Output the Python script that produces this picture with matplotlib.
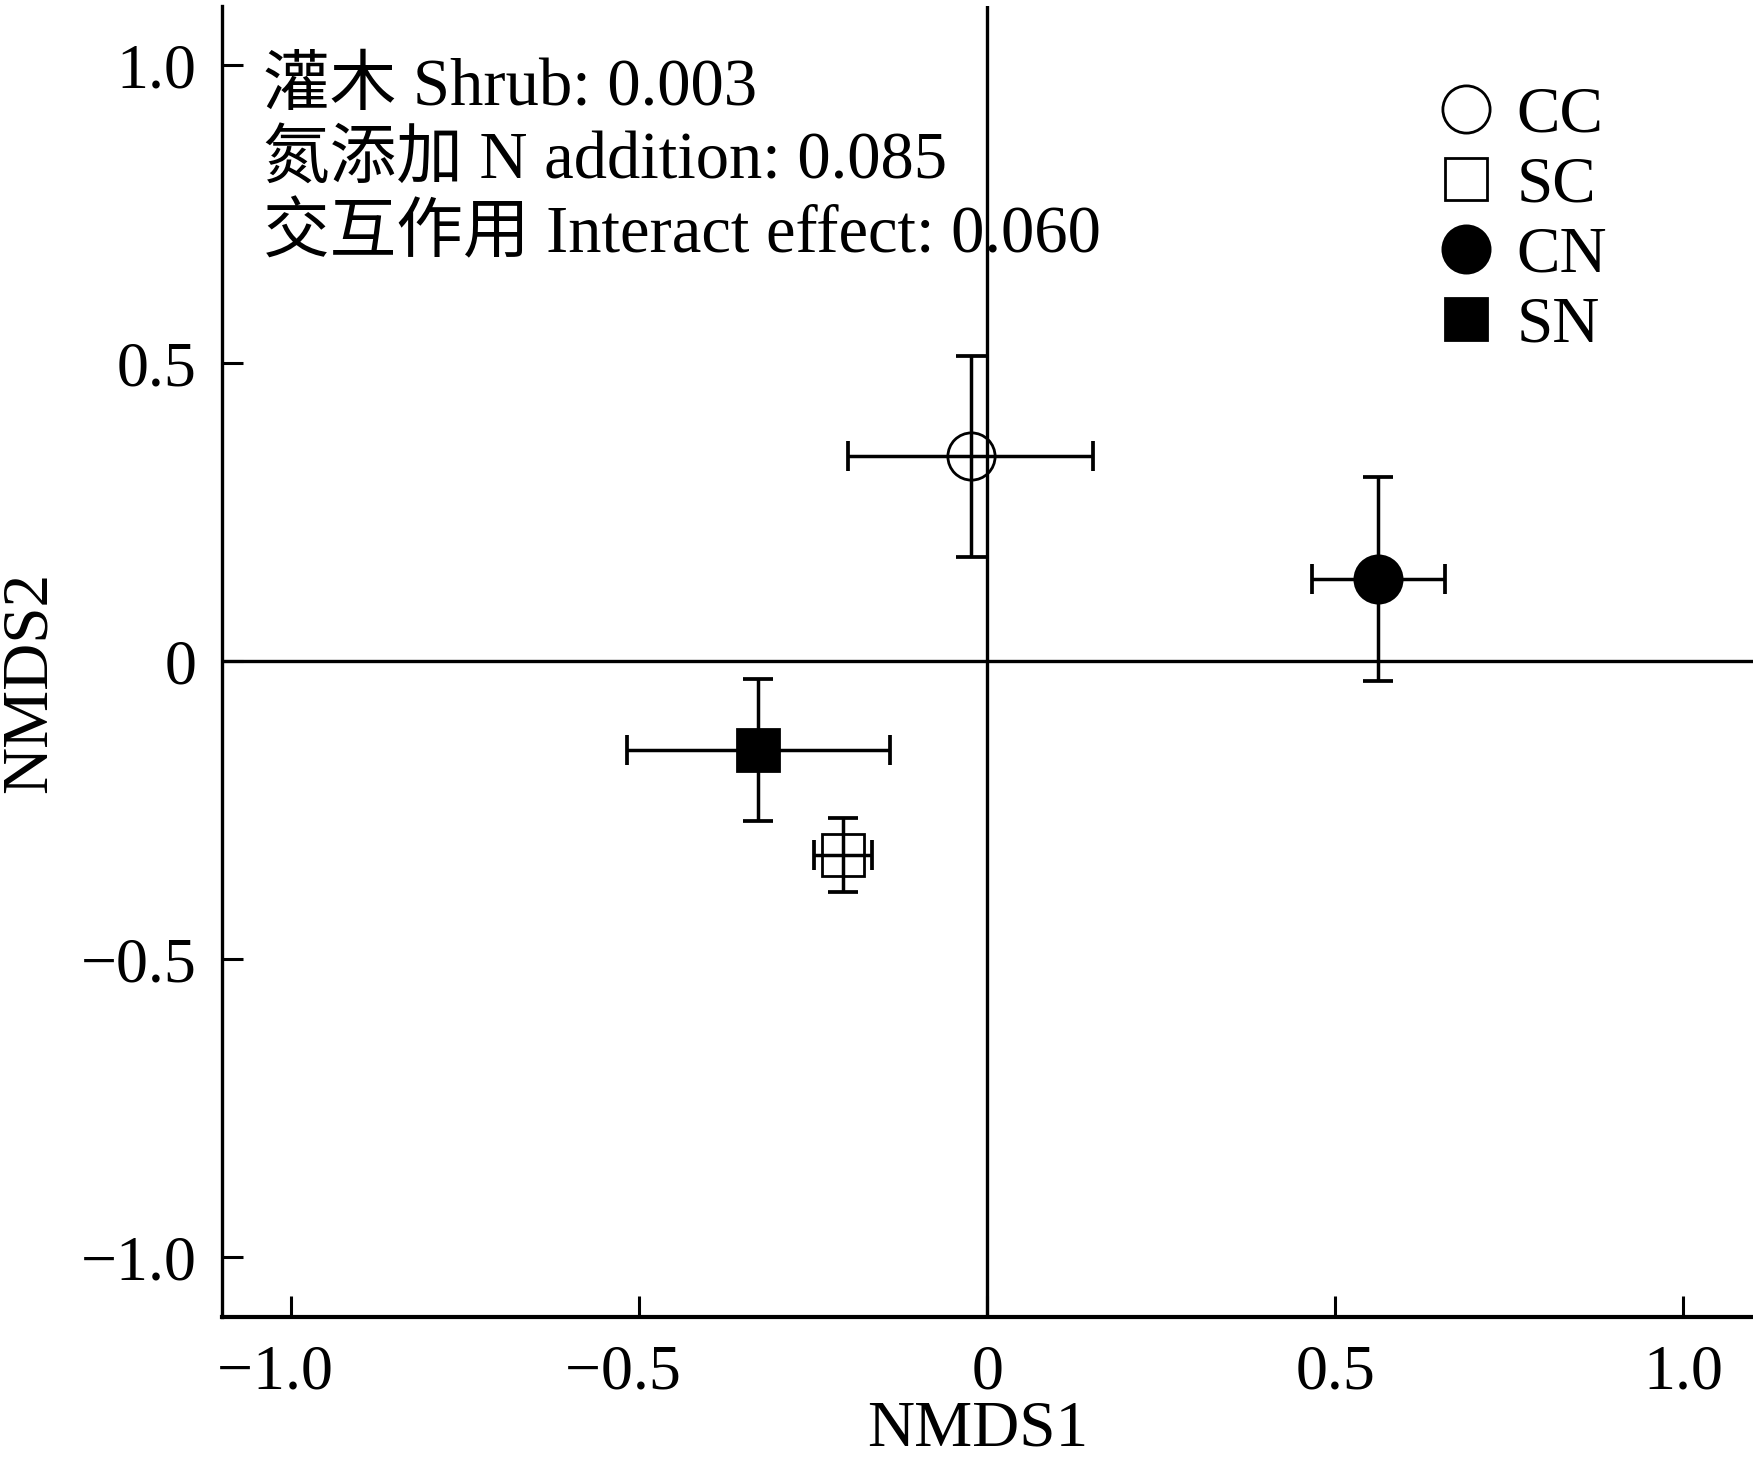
import matplotlib
matplotlib.use("Agg")
import matplotlib.pyplot as plt
from matplotlib.ticker import FixedLocator, FixedFormatter

plt.rcParams['font.family'] = ['Liberation Serif', 'Noto Sans CJK SC', 'DejaVu Sans']

# ---- data ----
groups = ['CC', 'SC', 'CN', 'SN']
nmds1 = [-0.024, -0.207, 0.562, -0.329]
nmds2 = [0.344, -0.325, 0.139, -0.149]
err1 = [0.176, 0.042, 0.095, 0.189]
err2 = [0.168, 0.062, 0.171, 0.119]
markers = ['o', 's', 'o', 's']
filled = [False, False, True, True]
ticks = [-1.0, -0.5, 0.0, 0.5, 1.0]
tick_labels = ['\u22121.0', '\u22120.5', '0', '0.5', '1.0']
stats_text = ('灌木 Shrub: 0.003\n'
              '氮添加 N addition: 0.085\n'
              '交互作用 Interact effect: 0.060')

fig = plt.figure(figsize=(17.53, 14.66), dpi=100)
ax = fig.add_axes([0.1264, 0.1016, 0.8736, 0.8944])

ax.axhline(0, color='black', lw=2.4, zorder=1)
ax.axvline(0, color='black', lw=2.4, zorder=1)

for g, x, y, ex, ey, m, f in zip(groups, nmds1, nmds2, err1, err2, markers, filled):
    ax.errorbar(x, y, xerr=ex, yerr=ey, fmt='none', ecolor='black',
                elinewidth=2.5, capsize=10.8, capthick=2.7, zorder=2)
    ms = 34 if m == 'o' else 30
    ax.plot(x, y, linestyle='none', marker=m, markersize=ms,
            markerfacecolor='black' if f else 'none',
            markeredgecolor='black', markeredgewidth=2.0, label=g, zorder=3)

# x tick labels: numeric part centred on the tick, minus sign hanging left
x_labels = [t + '\u2002' if t.startswith('\u2212') else t for t in tick_labels]

ax.set_xlim(-1.1, 1.1)
ax.set_ylim(-1.1, 1.1)
ax.xaxis.set_major_locator(FixedLocator(ticks))
ax.xaxis.set_major_formatter(FixedFormatter(x_labels))
ax.yaxis.set_major_locator(FixedLocator(ticks))
ax.yaxis.set_major_formatter(FixedFormatter(tick_labels))

for side in ['top', 'right']:
    ax.spines[side].set_visible(False)
ax.spines['left'].set_linewidth(2.4)
ax.spines['bottom'].set_linewidth(3.0)

ax.tick_params(axis='both', direction='in', length=15, width=2.2,
               labelsize=46, color='black')
ax.tick_params(axis='x', pad=20)
ax.tick_params(axis='y', pad=18)

ax.set_xlabel('NMDS1', fontsize=47)
ax.set_ylabel('NMDS2', fontsize=47)
ax.xaxis.set_label_coords(0.494, -0.063)
ax.yaxis.set_label_coords(-0.106, 0.484)

ax.text(0.027, 0.812, stats_text, transform=ax.transAxes, fontsize=48,
        ha='left', va='baseline', linespacing=1.25)

leg = ax.legend(loc='upper left', bbox_to_anchor=(0.7913, 0.939),
                frameon=False, fontsize=47, handlelength=1.0,
                handletextpad=0.27, labelspacing=0.16, borderpad=0,
                borderaxespad=0, markerscale=1.0)

fig.savefig('out.png', dpi=100)
